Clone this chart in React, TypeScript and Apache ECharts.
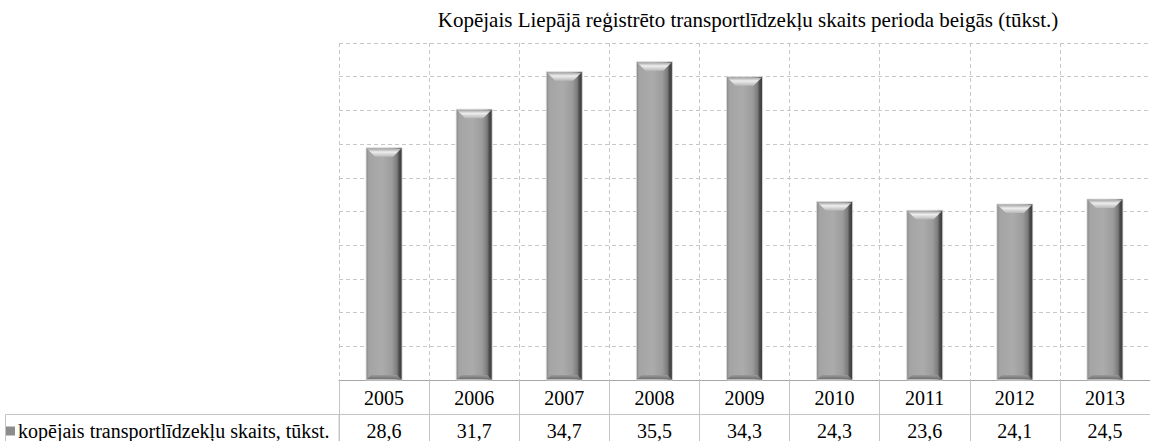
import React, { useEffect, useRef } from "react";
import * as echarts from "echarts";

const TITLE = "Kopējais Liepājā reģistrēto transportlīdzekļu skaits perioda beigās (tūkst.)";
const SERIES_NAME = "kopējais transportlīdzekļu skaits, tūkst.";
const YEARS = ["2005", "2006", "2007", "2008", "2009", "2010", "2011", "2012", "2013"];
const VALUES = [28.6, 31.7, 34.7, 35.5, 34.3, 24.3, 23.6, 24.1, 24.5];
const Y_MIN = 10;
const Y_MAX = 37;

const FONT = "Liberation Serif";
const TABLE_LINE = "#c4c4c4";
const GRID_LINE = "#c8c8c8";

export default function App() {
  const ref = useRef<HTMLDivElement>(null);

  useEffect(() => {
    document.body.style.margin = "0";
    if (!ref.current) return;
    const chart = echarts.init(ref.current, undefined, { renderer: "svg" });

    const bodyGrad = new echarts.graphic.LinearGradient(0, 0, 1, 0, [
      { offset: 0, color: "#858585" },
      { offset: 0.08, color: "#a4a4a4" },
      { offset: 0.45, color: "#ababab" },
      { offset: 0.72, color: "#9c9c9c" },
      { offset: 0.86, color: "#7c7c7c" },
      { offset: 0.92, color: "#4c4c4c" },
      { offset: 1, color: "#3a3a3a" },
    ]);

    const renderItem = (params: any, api: any) => {
      const idx = api.value(0);
      const val = api.value(1);
      const top = api.coord([idx, val]);
      const base = api.coord([idx, Y_MIN]);
      const bw = 36;
      const x0 = top[0] - bw / 2;
      const x1 = x0 + bw;
      const y0 = top[1];
      const y1 = base[1];
      const d = 9;
      const db = 5;
      return {
        type: "group",
        children: [
          {
            type: "rect",
            shape: { x: x0, y: y0, width: bw, height: y1 - y0 },
            style: { fill: bodyGrad, stroke: "rgba(220,220,220,0.8)", lineWidth: 1 },
          },
          {
            type: "polygon",
            shape: { points: [[x0 + 1, y0 + 1], [x1 - 1, y0 + 1], [x1 - d, y0 + d], [x0 + d, y0 + d]] },
            style: {
              fill: new echarts.graphic.LinearGradient(0, 0, 0, 1, [
                { offset: 0, color: "#a9a9a9" },
                { offset: 0.4, color: "#eeeeee" },
                { offset: 1, color: "#b8b8b8" },
              ]),
            },
          },
          {
            type: "polygon",
            shape: { points: [[x0 + 1, y1 - 1], [x1 - 1, y1 - 1], [x1 - db, y1 - db], [x0 + db, y1 - db]] },
            style: {
              fill: new echarts.graphic.LinearGradient(0, 0, 0, 1, [
                { offset: 0, color: "#9a9a9a" },
                { offset: 1, color: "#707070" },
              ]),
            },
          },
        ],
      };
    };

    chart.setOption({
      animation: false,
      textStyle: { fontFamily: FONT },
      graphic: [
        {
          type: "text",
          x: 748,
          y: 20,
          style: {
            text: TITLE,
            align: "center",
            verticalAlign: "middle",
            fontFamily: FONT,
            fontSize: 21,
            fill: "#000",
          },
        },
        {
          type: "rect",
          shape: { x: 5.5, y: 414.5, width: 333.5, height: 40 },
          style: { fill: "none", stroke: TABLE_LINE, lineWidth: 1 },
        },
      ],
      legend: {
        data: [{ name: SERIES_NAME, icon: "rect" }],
        left: 6,
        top: 421,
        itemWidth: 9,
        itemHeight: 9,
        itemGap: 2,
        padding: 0,
        textStyle: { fontFamily: FONT, fontSize: 20, lineHeight: 20, color: "#000", padding: [0, 0, 0, -2] },
      },
      grid: { left: 339, right: -12, top: 43, bottom: 61 },
      xAxis: [
        {
          type: "category",
          data: YEARS,
          position: "bottom",
          axisLine: { show: true, lineStyle: { color: "#a6a6a6", width: 1 } },
          axisTick: { show: true, length: 34, lineStyle: { color: TABLE_LINE } },
          axisLabel: { margin: 8, fontFamily: FONT, fontSize: 20, lineHeight: 20, color: "#000" },
          splitLine: { show: true, lineStyle: { color: GRID_LINE, type: [4, 3] } },
        },
        {
          type: "category",
          data: VALUES.map((v) => v.toFixed(1).replace(".", ",")),
          position: "bottom",
          offset: 34,
          axisLine: { show: true, lineStyle: { color: TABLE_LINE, width: 1 } },
          axisTick: { show: true, length: 40, lineStyle: { color: TABLE_LINE } },
          axisLabel: { margin: 7, fontFamily: FONT, fontSize: 20, lineHeight: 20, color: "#000" },
          splitLine: { show: false },
        },
      ],
      yAxis: [
        {
          type: "value",
          min: Y_MIN,
          max: Y_MAX,
          show: false,
          splitLine: { show: false },
        },
        {
          type: "value",
          min: 0,
          max: 10,
          interval: 1,
          axisLine: { show: false },
          axisTick: { show: false },
          axisLabel: { show: false },
          splitLine: { show: true, lineStyle: { color: GRID_LINE, type: [4, 3] } },
        },
      ],
      series: [
        {
          name: SERIES_NAME,
          type: "custom",
          xAxisIndex: 0,
          yAxisIndex: 0,
          itemStyle: { color: "#8c8c8c" },
          encode: { x: 0, y: 1 },
          data: VALUES.map((v, i) => [i, v]),
          renderItem,
        },
      ],
    });

    return () => chart.dispose();
  }, []);

  return <div ref={ref} style={{ width: 1150, height: 441 }} />;
}
